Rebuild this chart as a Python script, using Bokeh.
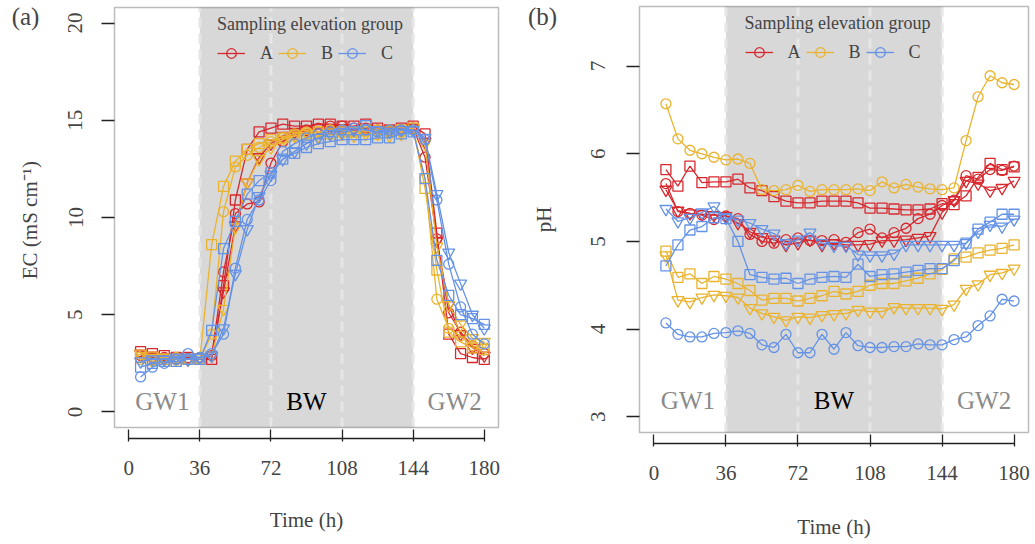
from bokeh.plotting import figure
from bokeh.layouts import row
from bokeh.models import (Range1d, LinearAxis, FixedTicker, BoxAnnotation, Grid,
                          Label, Legend, LegendItem, ColumnDataSource)
from bokeh.embed import file_html
from bokeh.resources import INLINE

FONT = "Liberation Serif"
H = 544

# sampling times (h)
time_h = [6, 12, 18, 24, 30, 36, 42, 48, 54, 60, 66, 72, 78, 84, 90,
          96, 102, 108, 114, 120, 126, 132, 138, 144, 150, 156, 162, 168, 174, 180]

groups = ["A", "B", "C"]
group_colors = ["#D7282E", "#EAB32E", "#6492E6"]
markers = ["circle", "square", "inverted_triangle"]
x_ticks = [0, 36, 72, 108, 144, 180]
phase_names = ["GW1", "BW", "GW2"]

# electrical conductivity, mS cm-1
ec_A_circle = [2.9, 2.8, 2.8, 2.7, 2.75, 2.8, 2.9, 7.2, 10.2, 10.7, 10.8, 12.8, 13.9, 14.3, 14.5,
               14.6, 14.7, 14.7, 14.6, 14.6, 14.5, 14.4, 14.5, 14.6, 13.1, 8.9, 5.1, 4.1, 3.4, 3.0]
ec_A_square = [3.1, 3.0, 2.9, 2.8, 2.8, 2.7, 2.7, 6.5, 10.9, 13.5, 14.4, 14.6, 14.8, 14.7, 14.7,
               14.8, 14.8, 14.7, 14.7, 14.8, 14.6, 14.5, 14.6, 14.7, 14.3, 9.2, 4.0, 3.0, 2.8, 2.7]
ec_A_tri = [3.0, 2.9, 2.8, 2.8, 2.7, 2.8, 2.9, 6.2, 9.6, 11.8, 13.1, 13.8, 14.2, 14.4, 14.5,
            14.6, 14.6, 14.6, 14.5, 14.6, 14.5, 14.5, 14.5, 14.6, 13.9, 8.8, 5.5, 4.0, 3.3, 2.9]
ec_B_circle = [2.7, 2.6, 2.7, 2.8, 2.7, 2.7, 4.0, 10.3, 12.6, 13.2, 13.6, 13.9, 14.1, 14.3, 14.4,
               14.4, 14.5, 14.5, 14.4, 14.4, 14.5, 14.5, 14.4, 14.5, 12.0, 5.8, 4.3, 3.9, 3.4, 3.3]
ec_B_square = [2.8, 2.7, 2.7, 2.6, 2.7, 2.7, 8.6, 11.6, 12.9, 13.5, 13.8, 14.0, 14.1, 14.2, 14.3,
               14.4, 14.3, 14.4, 14.4, 14.5, 14.3, 14.4, 14.5, 14.6, 11.5, 7.3, 4.1, 3.6, 3.3, 3.2]
ec_B_tri = [3.0, 2.9, 2.8, 2.7, 2.7, 2.8, 2.9, 5.3, 9.5, 11.8, 13.0, 13.6, 14.0, 14.2, 14.3,
            14.2, 14.3, 14.3, 14.2, 14.3, 14.3, 14.2, 14.3, 14.5, 13.8, 8.5, 5.5, 4.5, 3.8, 3.6]
ec_C_circle = [1.8, 2.3, 2.5, 2.7, 3.0, 2.8, 3.0, 4.0, 7.4, 9.9, 10.9, 11.9, 13.4, 13.8, 14.1,
               14.3, 14.4, 14.5, 14.6, 14.5, 14.4, 14.5, 14.5, 14.5, 14.0, 10.9, 7.6, 5.4, 4.0, 3.5]
ec_C_square = [2.3, 2.5, 2.6, 2.6, 2.7, 2.7, 4.2, 8.4, 9.8, 11.2, 11.9, 12.3, 13.0, 13.3, 13.6,
               13.8, 13.9, 14.0, 14.0, 14.0, 14.1, 14.1, 14.3, 14.4, 12.0, 7.8, 6.0, 5.0, 4.8, 4.5]
ec_C_tri = [2.6, 2.7, 2.7, 2.8, 2.7, 2.8, 2.9, 4.3, 7.1, 9.4, 11.1, 12.2, 13.0, 13.4, 13.8,
            14.1, 14.3, 14.4, 14.5, 14.8, 14.5, 14.4, 14.5, 14.5, 14.1, 11.2, 8.2, 6.6, 5.0, 4.3]

# pH
ph_A_circle = [5.66, 5.34, 5.32, 5.30, 5.25, 5.29, 5.26, 5.08, 5.00, 4.98, 5.02, 5.04, 5.01, 5.01, 5.02,
               4.99, 5.10, 5.14, 5.04, 5.10, 5.15, 5.26, 5.31, 5.41, 5.47, 5.75, 5.71, 5.82, 5.81, 5.86]
ph_A_square = [5.82, 5.63, 5.86, 5.67, 5.68, 5.68, 5.71, 5.61, 5.58, 5.51, 5.46, 5.44, 5.44, 5.46, 5.46,
               5.46, 5.44, 5.38, 5.38, 5.37, 5.36, 5.36, 5.37, 5.43, 5.42, 5.52, 5.73, 5.89, 5.82, 5.85]
ph_A_tri = [5.59, 5.35, 5.32, 5.31, 5.30, 5.29, 5.21, 5.11, 5.05, 5.02, 4.96, 4.98, 5.02, 4.96, 4.98,
            4.96, 4.96, 4.97, 5.01, 5.01, 5.02, 5.04, 5.06, 5.33, 5.47, 5.69, 5.66, 5.58, 5.61, 5.69]
ph_B_circle = [6.57, 6.17, 6.04, 6.00, 5.96, 5.93, 5.94, 5.89, 5.59, 5.58, 5.59, 5.64, 5.57, 5.59, 5.59,
               5.59, 5.60, 5.58, 5.68, 5.61, 5.65, 5.62, 5.60, 5.59, 5.61, 6.15, 6.65, 6.89, 6.81, 6.79]
ph_B_square = [4.89, 4.59, 4.63, 4.52, 4.60, 4.57, 4.52, 4.44, 4.33, 4.35, 4.35, 4.32, 4.35, 4.38, 4.43,
               4.40, 4.43, 4.50, 4.52, 4.52, 4.55, 4.58, 4.63, 4.68, 4.80, 4.82, 4.87, 4.90, 4.92, 4.96]
ph_B_tri = [4.84, 4.33, 4.31, 4.36, 4.39, 4.38, 4.36, 4.24, 4.18, 4.14, 4.10, 4.14, 4.13, 4.16, 4.17,
            4.18, 4.22, 4.20, 4.20, 4.25, 4.24, 4.24, 4.24, 4.23, 4.28, 4.46, 4.51, 4.62, 4.64, 4.69]
ph_C_circle = [4.07, 3.94, 3.91, 3.91, 3.95, 3.96, 3.98, 3.95, 3.82, 3.79, 3.94, 3.73, 3.73, 3.94, 3.77,
               3.96, 3.81, 3.79, 3.79, 3.80, 3.80, 3.83, 3.82, 3.82, 3.88, 3.91, 4.04, 4.15, 4.34, 4.32]
ph_C_square = [4.72, 4.96, 5.13, 5.17, 5.27, 5.26, 5.00, 4.62, 4.59, 4.57, 4.58, 4.52, 4.57, 4.59, 4.60,
               4.59, 4.74, 4.60, 4.62, 4.63, 4.65, 4.67, 4.69, 4.69, 4.78, 4.98, 5.14, 5.22, 5.31, 5.31]
ph_C_tri = [5.37, 5.23, 5.27, 5.33, 5.40, 5.27, 5.25, 5.21, 5.14, 5.09, 4.98, 5.02, 5.10, 4.98, 4.95,
            4.95, 4.85, 4.84, 4.84, 4.86, 4.96, 4.96, 4.96, 4.96, 4.96, 4.98, 5.11, 5.19, 5.17, 5.25]

ec_series = {"A": [ec_A_circle, ec_A_square, ec_A_tri],
             "B": [ec_B_circle, ec_B_square, ec_B_tri],
             "C": [ec_C_circle, ec_C_square, ec_C_tri]}
ph_series = {"A": [ph_A_circle, ph_A_square, ph_A_tri],
             "B": [ph_B_circle, ph_B_square, ph_B_tri],
             "C": [ph_C_circle, ph_C_square, ph_C_tri]}

marker_size = {"circle": 10, "square": 10, "inverted_triangle": 12}
X_LO, X_HI = -7.2, 187.2


def make_panel(tag, tag_px, series, box_lo, box_hi, y_ticks, y_label, width, box_px,
               axis_px, phase_y, tick_standoff, ylab_standoff, xlab_standoff):
    # the frame fills the whole canvas; the plot box is placed by pixel layout
    bl, br, bt, bb = box_px
    kx = (br - bl) / (X_HI - X_LO)
    ky = (bb - bt) / (box_hi - box_lo)
    p = figure(width=width, height=H,
               x_range=Range1d(X_LO - bl / kx, X_HI + (width - br) / kx),
               y_range=Range1d(box_lo - (H - bb) / ky, box_hi + bt / ky),
               output_backend="svg", toolbar_location=None,
               x_axis_location=None, y_axis_location=None,
               min_border=0, min_border_left=0, min_border_right=0,
               min_border_top=0, min_border_bottom=0)
    p.background_fill_color = "white"
    p.border_fill_color = "white"
    p.outline_line_color = None
    for r in p.center:
        if isinstance(r, Grid):
            r.visible = False

    # brackish-water phase band with dashed 36 h guides
    p.add_layout(BoxAnnotation(left=x_ticks[1], right=x_ticks[4], bottom=box_lo, top=box_hi,
                               fill_color="#D8D8D8", fill_alpha=1.0,
                               line_color=None, level="underlay"))
    guides = ColumnDataSource(dict(x=x_ticks[1:5], y0=[box_lo] * 4, y1=[box_hi] * 4))
    p.segment(x0="x", y0="y0", x1="x", y1="y1", source=guides, line_color="#E6E6E6",
              line_width=3, line_dash="10 6")
    p.add_layout(BoxAnnotation(left=X_LO, right=X_HI, bottom=box_lo, top=box_hi,
                               fill_color=None, line_color="#222222", line_width=1.5,
                               level="overlay"))

    items = []
    for g, color in zip(groups, group_colors):
        first = None
        for m, vals in zip(markers, series[g]):
            src = ColumnDataSource(dict(t=time_h, v=vals))
            lr = p.line("t", "v", source=src, line_color=color, line_width=1.3)
            sr = p.scatter("t", "v", source=src, marker=m, size=marker_size[m],
                           line_color=color, fill_color=None, line_width=1.3)
            if first is None:
                first = [lr, sr]
        items.append(LegendItem(label=g, renderers=first))

    legend_h = 50
    legend_top = bt + 8
    legend = Legend(items=items, orientation="horizontal",
                    location=((bl + br) / 2 - 89, H - legend_top - legend_h),
                    title="Sampling elevation group", title_text_font=FONT,
                    title_text_font_size="18px", title_text_font_style="normal",
                    title_standoff=6, label_text_font=FONT, label_text_font_size="18px",
                    glyph_width=28, glyph_height=24, label_standoff=15, label_width=0,
                    spacing=5, padding=0, margin=0, background_fill_alpha=0,
                    border_line_color=None)
    p.add_layout(legend)

    # phase names along the bottom of the box
    for name, xpos in zip(phase_names, [17, 90, 165]):
        p.add_layout(Label(x=xpos, y=phase_y, text=name, text_font=FONT,
                           text_font_size="25px", text_align="center",
                           text_baseline="middle",
                           text_color="black" if name == "BW" else "#8A8A8A"))

    ya = LinearAxis(ticker=FixedTicker(ticks=y_ticks), axis_label=y_label,
                    bounds=(box_lo, box_hi), fixed_location=X_LO)
    ya.axis_line_color = None
    ya.major_tick_out = 13
    ya.major_tick_in = 0
    ya.major_tick_line_width = 1.3
    ya.major_tick_line_color = "#222222"
    ya.minor_tick_line_color = None
    ya.major_label_orientation = "vertical"
    ya.major_label_text_font = FONT
    ya.major_label_text_font_size = "21px"
    ya.major_label_standoff = tick_standoff
    ya.axis_label_text_font = FONT
    ya.axis_label_text_font_size = "21px"
    ya.axis_label_text_font_style = "normal"
    ya.axis_label_standoff = ylab_standoff
    p.add_layout(ya, "left")

    xa = LinearAxis(ticker=FixedTicker(ticks=x_ticks), bounds=(x_ticks[0], x_ticks[-1]),
                    axis_label="Time (h)",
                    fixed_location=box_lo - (axis_px - bb) / ky)
    xa.axis_line_width = 1.3
    xa.axis_line_color = "#222222"
    xa.major_tick_in = 9
    xa.major_tick_out = 3
    xa.major_tick_line_width = 1.3
    xa.major_tick_line_color = "#222222"
    xa.minor_tick_line_color = None
    xa.major_label_text_font = FONT
    xa.major_label_text_font_size = "21px"
    xa.major_label_standoff = 19
    xa.axis_label_text_font = FONT
    xa.axis_label_text_font_size = "21px"
    xa.axis_label_text_font_style = "normal"
    xa.axis_label_standoff = xlab_standoff
    p.add_layout(xa, "below")

    p.add_layout(Label(x=X_LO - (bl - tag_px[0]) / kx, y=box_hi + (bt - tag_px[1]) / ky,
                       text=tag, text_font=FONT, text_font_size="25px",
                       text_align="center", text_baseline="middle"))
    return p


pa = make_panel("(a)", (25, 16), ec_series, -0.8, 20.8, [0, 5, 10, 15, 20], "EC  (mS cm⁻¹)",
                520, (114, 498, 7, 427), 438, 0.55, 19, 24, 30)
pb = make_panel("(b)", (22, 16), ph_series, 2.82, 7.68, [3, 4, 5, 6, 7], "pH",
                515, (119, 508, 6, 432), 443, 3.18, 21, 33, 32)

layout = row(pa, pb, spacing=0)
open("out.html", "w").write(file_html(layout, INLINE))
